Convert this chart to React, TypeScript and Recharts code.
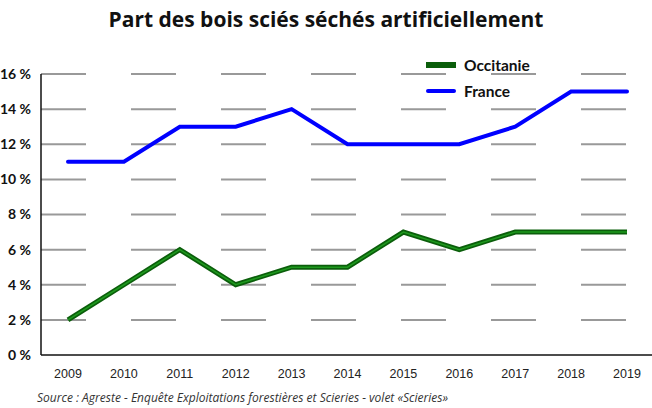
import { LineChart, Line, XAxis, YAxis, ReferenceLine } from "recharts";

const years = ["2009", "2010", "2011", "2012", "2013", "2014", "2015", "2016", "2017", "2018", "2019"];
const occitanie = [2, 4, 6, 4, 5, 5, 7, 6, 7, 7, 7];
const france = [11, 11, 13, 13, 14, 12, 12, 12, 13, 15, 15];
const yTicks = [0, 2, 4, 6, 8, 10, 12, 14, 16];

const data = years.map((year, i) => ({ year, occitanie: occitanie[i], france: france[i] }));

function ChartLegend() {
  const item = (label: string, swatch: React.ReactNode) => (
    <div style={{ display: "flex", alignItems: "center", height: 26 }}>
      <svg width={34} height={8} style={{ marginRight: 6 }}>{swatch}</svg>
      <span style={{ fontFamily: "Lato, sans-serif", fontWeight: 700, fontSize: 15.5, color: "#111" }}>{label}</span>
    </div>
  );
  return (
    <div style={{ position: "absolute", left: 424, top: 52 }}>
      {item("Occitanie", <rect x={2} y={1} width={30} height={6} fill="#0b5e0b" />)}
      {item("France", <line x1={4} y1={4} x2={30} y2={4} stroke="#0000ff" strokeWidth={4} strokeLinecap="round" />)}
    </div>
  );
}

export default function App() {
  return (
    <div style={{ position: "absolute", left: 0, top: 0, width: 652, height: 408, background: "#fff" }}>
      <div
        style={{
          position: "absolute",
          top: 5,
          left: 0,
          width: 652,
          textAlign: "center",
          fontFamily: "'Open Sans', sans-serif",
          fontWeight: 700,
          fontSize: 21,
          color: "#111",
        }}
      >
        Part des bois sciés séchés artificiellement
      </div>
      <LineChart width={652} height={408} data={data} margin={{ top: 74, right: 0, left: 0, bottom: 23 }}>
        {yTicks.slice(1).map((t) => (
          <ReferenceLine key={t} y={t} stroke="#999" strokeWidth={2} strokeDasharray="45 45" />
        ))}
        <XAxis
          dataKey="year"
          padding={{ left: 27, right: 25 }}
          axisLine={{ stroke: "#111", strokeWidth: 1.5 }}
          tickLine={false}
          height={30}
          tick={{ fontFamily: "Liberation Sans, Arial, sans-serif", fontSize: 12.5, fill: "#222", dy: 6 }}
          interval={0}
        />
        <YAxis
          width={41}
          domain={[0, 16]}
          ticks={yTicks}
          tickFormatter={(v: number) => `${v} %`}
          axisLine={{ stroke: "#111", strokeWidth: 1.5 }}
          tickLine={false}
          tick={{ fontFamily: "Lato, sans-serif", fontWeight: 700, fontSize: 14, fill: "#111" }}
          tickMargin={4}
        />
        <Line dataKey="occitanie" stroke="#0b5e0b" strokeWidth={5} dot={false} isAnimationActive={false} />
        <Line dataKey="occitanie" stroke="#1e9a1e" strokeWidth={1.5} dot={false} isAnimationActive={false} legendType="none" />
        <Line dataKey="france" stroke="#0000ff" strokeWidth={4} dot={false} strokeLinecap="round" isAnimationActive={false} />
      </LineChart>
      <ChartLegend />
      <div
        style={{
          position: "absolute",
          left: 37,
          top: 389,
          fontFamily: "'Open Sans', sans-serif",
          fontStyle: "italic",
          fontSize: 12,
          color: "#333",
        }}
      >
        Source : Agreste - Enquête Exploitations forestières et Scieries - volet «Scieries»
      </div>
    </div>
  );
}
